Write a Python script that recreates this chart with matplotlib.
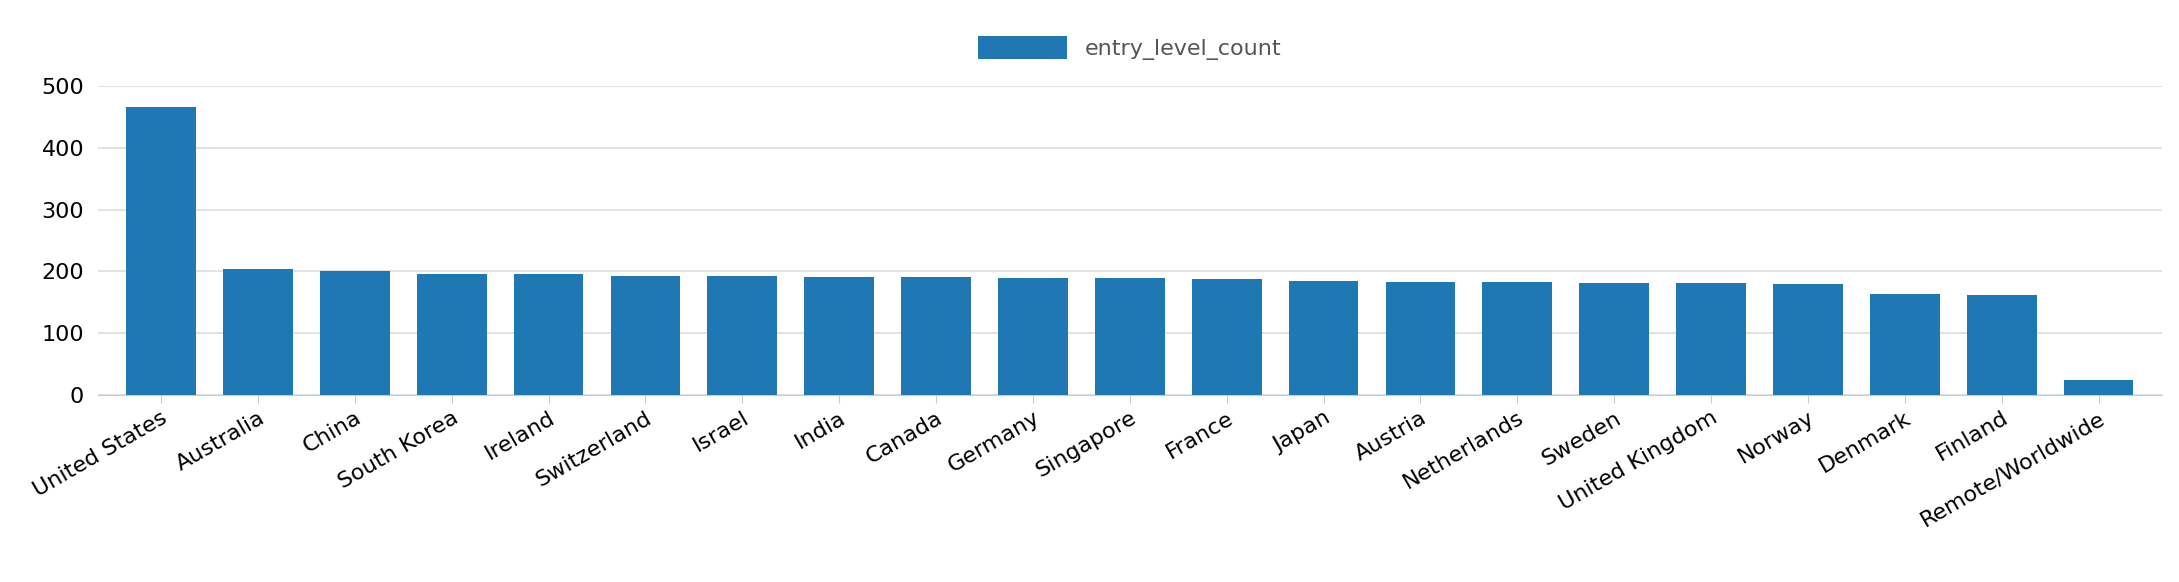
import matplotlib.pyplot as plt

countries = ["United States", "Australia", "China", "South Korea", "Ireland", "Switzerland",
             "Israel", "India", "Canada", "Germany", "Singapore", "France", "Japan", "Austria",
             "Netherlands", "Sweden", "United Kingdom", "Norway", "Denmark", "Finland",
             "Remote/Worldwide"]
counts = [466, 204, 201, 195, 195, 193, 192, 190, 190, 189, 189, 187, 184, 182, 182, 181,
          181, 179, 163, 161, 24]

fig = plt.figure(figsize=(21.79, 5.82), dpi=100)
ax = fig.add_axes([0.045, 0.322, 0.947, 0.53])
ax.bar(range(len(countries)), counts, width=0.72, color="#1f77b4", label="entry_level_count", zorder=3)
ax.set_xlim(-0.65, len(countries) - 0.35)
ax.set_ylim(0, 500)
ax.set_yticks(range(0, 501, 100))
ax.grid(axis="y", color="#d9dde3", lw=1.2, zorder=0)
for s in ["top", "right", "left"]:
    ax.spines[s].set_visible(False)
ax.spines["bottom"].set_color("#c8ccd2")
ax.tick_params(axis="y", length=0, labelsize=16, pad=10)
ax.tick_params(axis="x", length=6, color="#c8ccd2", labelsize=16)
ax.set_xticks(range(len(countries)))
ax.set_xticklabels(countries, rotation=30, ha="right", rotation_mode="anchor")
ax.legend(loc="lower center", bbox_to_anchor=(0.5, 1.02), frameon=False, fontsize=16,
          handlelength=4, handleheight=1.2, labelcolor="#555555")
fig.savefig("out.png")
